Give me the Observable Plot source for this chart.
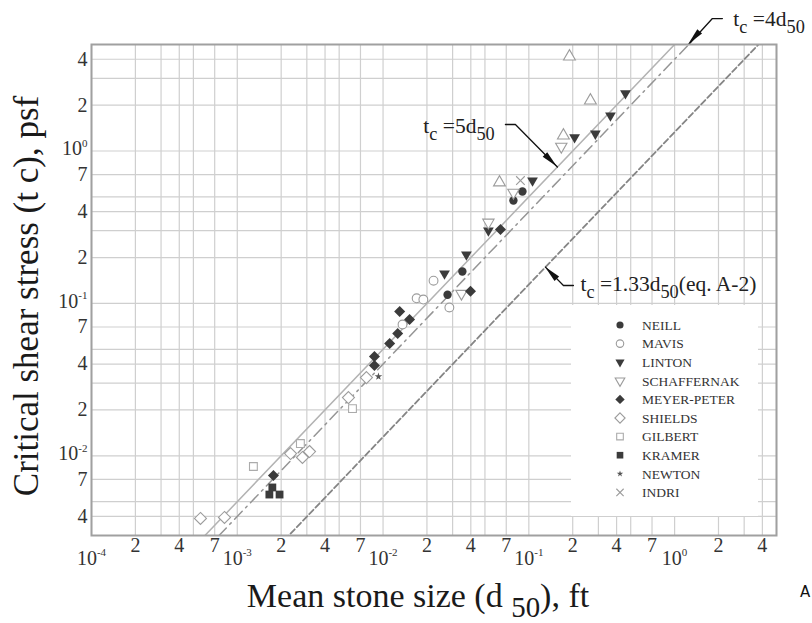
<!DOCTYPE html>
<html><head><meta charset="utf-8">
<script src="https://cdn.jsdelivr.net/npm/d3@7"></script>
<script src="https://cdn.jsdelivr.net/npm/@observablehq/plot@0.6"></script>
<style>
html,body{margin:0;padding:0;background:#fff;}
#chart{position:relative;width:812px;height:623px;overflow:hidden;background:#fff;}
</style></head><body><div id="chart"></div>
<script>
// ---------- data (d50 in ft, tc in psf) ----------
const neillD50 = [0.0277, 0.035, 0.0784, 0.0904];
const neillTc  = [0.114, 0.162, 0.474, 0.542];
const mavisD50 = [0.0136, 0.0170, 0.0189, 0.0222, 0.0285];
const mavisTc  = [0.0727, 0.108, 0.106, 0.141, 0.094];
const lintonD50 = [0.0264, 0.0373, 0.0528, 0.106, 0.206, 0.286, 0.363, 0.46];
const lintonTc  = [0.157, 0.209, 0.301, 0.64, 1.23, 1.30, 1.71, 2.39];
const schaffD50 = [0.0345, 0.0528, 0.0784, 0.167];
const schaffTc  = [0.116, 0.340, 0.534, 1.07];
const meyerD50 = [0.00177, 0.00873, 0.00873, 0.0111, 0.0126, 0.0130, 0.0152, 0.0398, 0.0639];
const meyerTc  = [0.00743, 0.0391, 0.0448, 0.0545, 0.0635, 0.0885, 0.0784, 0.120, 0.306];
const shieldsD50 = [0.000559, 0.000817, 0.00232, 0.0028, 0.00313, 0.00579, 0.00769];
const shieldsTc  = [0.00388, 0.00394, 0.01035, 0.00975, 0.01067, 0.0241, 0.0326];
const gilbertD50 = [0.00129, 0.00271, 0.00617];
const gilbertTc  = [0.00851, 0.01204, 0.0204];
const kramerD50 = [0.00174, 0.00166, 0.00195];
const kramerTc  = [0.0062, 0.00557, 0.00557];
const newtonD50 = [0.0093];
const newtonTc  = [0.0331];
const indriD50 = [0.0876];
const indriTc  = [0.64];
const openUpD50 = [0.0629, 0.1727, 0.2645, 0.19];
const openUpTc  = [0.622, 1.264, 2.145, 4.17];

const legendNames = ["NEILL","MAVIS","LINTON","SCHAFFERNAK","MEYER-PETER","SHIELDS","GILBERT","KRAMER","NEWTON","INDRI"];

// reference lines tc = k * d50
const lineCoefs = [5, 4, 1.33];

// axis ticks
const xDecades = [1e-4, 1e-3, 1e-2, 1e-1, 1];
const xMinorTicks = [2e-4,4e-4,7e-4,2e-3,4e-3,7e-3,2e-2,4e-2,7e-2,0.2,0.4,0.7,2,4];
const yDecades = [1e-2, 1e-1, 1];
const yMinorTicks = [0.004,0.007,0.02,0.04,0.07,0.2,0.4,0.7,2,4];
const gridMultiples = [1,2,3,4,5,7];

// annotations
const annoText = ["t_{c} =4d_{50}", "t_{c} =5d_{50}", "t_{c} =1.33d_{50}(eq. A-2)"];
const annoX = [2.53, 0.0189, 0.226];
const annoY = [7.29, 1.448, 0.133];
const leaderId = ["a","a","a","b","b","b","c","c","c"];
const leaderX = [2.127, 1.816, 1.25, 0.0691, 0.0809, 0.157, 0.2022, 0.1727, 0.13];
const leaderY = [7.40, 7.40, 5.0, 1.493, 1.493, 0.785, 0.1311, 0.1311, 0.173];

// ---------- symbols ----------
const triDown = {draw(ctx, size){
  const s = Math.sqrt(4*size/Math.sqrt(3)), h = s*Math.sqrt(3)/2;
  ctx.moveTo(-s/2, -h/3); ctx.lineTo(s/2, -h/3); ctx.lineTo(0, 2*h/3); ctx.closePath();
}};
const triUp = {draw(ctx, size){
  const s = Math.sqrt(4*size/Math.sqrt(3)), h = s*Math.sqrt(3)/2;
  ctx.moveTo(-s/2, h/3); ctx.lineTo(s/2, h/3); ctx.lineTo(0, -2*h/3); ctx.closePath();
}};
const rhomb = {draw(ctx, size){
  const r = Math.sqrt(size/2);
  ctx.moveTo(0,-r); ctx.lineTo(r,0); ctx.lineTo(0,r); ctx.lineTo(-r,0); ctx.closePath();
}};
const DARK = "#3b3b3b", OPEN = "#9c9c9c";
const series = [
  {name:"NEILL", d50:neillD50, tc:neillTc, symbol:d3.symbolCircle, fill:DARK, stroke:"none", r:4.2},
  {name:"MAVIS", d50:mavisD50, tc:mavisTc, symbol:d3.symbolCircle, fill:"white", stroke:OPEN, r:4.4},
  {name:"LINTON", d50:lintonD50, tc:lintonTc, symbol:triDown, fill:DARK, stroke:"none", r:4.0},
  {name:"SCHAFFERNAK", d50:schaffD50, tc:schaffTc, symbol:triDown, fill:"white", stroke:OPEN, r:4.2},
  {name:"MEYER-PETER", d50:meyerD50, tc:meyerTc, symbol:rhomb, fill:DARK, stroke:"none", r:4.4},
  {name:"SHIELDS", d50:shieldsD50, tc:shieldsTc, symbol:rhomb, fill:"white", stroke:OPEN, r:4.8},
  {name:"GILBERT", d50:gilbertD50, tc:gilbertTc, symbol:d3.symbolSquare, fill:"white", stroke:"#ababab", r:4.4},
  {name:"KRAMER", d50:kramerD50, tc:kramerTc, symbol:d3.symbolSquare, fill:DARK, stroke:"none", r:4.4},
  {name:"NEWTON", d50:newtonD50, tc:newtonTc, symbol:d3.symbolStar, fill:"#555", stroke:"none", r:2.4},
  {name:"INDRI", d50:indriD50, tc:indriTc, symbol:d3.symbolTimes, fill:"none", stroke:OPEN, r:4.0},
  {name:"", d50:openUpD50, tc:openUpTc, symbol:triUp, fill:"white", stroke:OPEN, r:4.4}
];

// ---------- derived tables ----------
const xDomain = [1e-4, 5], yDomain = [3e-3, 5];
const xGrid = xDecades.flatMap(d => gridMultiples.map(m => m*d)).filter(v => v <= xDomain[1]*1.0001);
const yGrid = [1e-3, ...yDecades].flatMap(d => gridMultiples.map(m => m*d)).filter(v => v >= yDomain[0]*0.999 && v <= yDomain[1]*1.0001);
const refLine = k => xDomain.map(x => ({x, y: k*x}));
const lead = leaderId.map((id,i) => ({id, x: leaderX[i], y: leaderY[i]}));
const annos = annoText.map((t,i) => ({t, x: annoX[i], y: annoY[i]}));
const digit = d => String(Math.round(d / Math.pow(10, Math.floor(Math.log10(d) + 1e-9))));
const decade = d => `10^{${Math.round(Math.log10(d))}}`;

const FONT = "'Liberation Serif', 'Times New Roman', serif";
const TICK = {fontSize: 20, fill: "#333"};

const plot = Plot.plot({
  width: 812, height: 623,
  marginLeft: 91, marginRight: 36, marginTop: 44, marginBottom: 88,
  x: {type: "log", domain: xDomain, axis: null},
  y: {type: "log", domain: yDomain, axis: null},
  style: {fontFamily: FONT, background: "white", color: "#333", overflow: "visible"},
  marks: [
    Plot.ruleX(xGrid, {stroke: "#cfcfcf", strokeWidth: 1.2}),
    Plot.ruleY(yGrid, {stroke: "#cfcfcf", strokeWidth: 1.2}),
    Plot.line(refLine(lineCoefs[0]), {x: "x", y: "y", stroke: "#b3b3b3", strokeWidth: 1.5, clip: true}),
    Plot.line(refLine(lineCoefs[1]), {x: "x", y: "y", stroke: "#959595", strokeWidth: 1.5, strokeDasharray: "11,5,2,5", clip: true}),
    Plot.line(refLine(lineCoefs[2]), {x: "x", y: "y", stroke: "#858585", strokeWidth: 1.8, strokeDasharray: "6,3", clip: true}),
    ...series.map(s => Plot.dot(s.d50.map((d,i) => ({d, t: s.tc[i]})), {
      x: "d", y: "t", symbol: s.symbol, r: s.r, fill: s.fill, stroke: s.stroke, strokeWidth: 1.1
    })),
    Plot.line(lead, {x: "x", y: "y", z: "id", stroke: "#111", strokeWidth: 1.3}),
    Plot.text(annos, {x: "x", y: "y", text: "t", textAnchor: "start", fontSize: 21.5, fill: "#222"}),
    Plot.frame({stroke: "#a0a0a0", strokeWidth: 2}),
    // tick labels
    Plot.text(xMinorTicks, {x: d => d, text: digit, frameAnchor: "bottom", lineAnchor: "top", dy: 2, ...TICK}),
    Plot.text(xDecades, {x: d => d, text: decade, frameAnchor: "bottom", lineAnchor: "top", dy: 15, ...TICK}),
    Plot.text(yMinorTicks, {y: d => d, text: digit, frameAnchor: "left", textAnchor: "end", dx: -4, ...TICK}),
    Plot.text(yDecades, {y: d => d, text: decade, frameAnchor: "left", textAnchor: "end", dx: -4, dy: -2, ...TICK})
  ]
});

const host = document.getElementById("chart");
host.appendChild(plot);
const svg = d3.select(plot.tagName.toLowerCase() === "svg" ? plot : plot.querySelector("svg"));

// arrowheads at leader tips (using the plot's own scales)
const sx = plot.scale("x"), sy = plot.scale("y");
const ids = [...new Set(leaderId)];
ids.forEach(id => {
  const pts = lead.filter(p => p.id === id);
  const a = pts[pts.length-2], b = pts[pts.length-1];
  const x1 = sx.apply(a.x), y1 = sy.apply(a.y), x2 = sx.apply(b.x), y2 = sy.apply(b.y);
  const L = Math.hypot(x2-x1, y2-y1), ux = (x2-x1)/L, uy = (y2-y1)/L;
  const len = 17, hw = 3.2;
  const bx = x2 - ux*len, by = y2 - uy*len;
  svg.append("path")
    .attr("d", `M${x2},${y2}L${bx - uy*hw},${by + ux*hw}L${bx + uy*hw},${by - ux*hw}Z`)
    .attr("fill", "#111");
});

// legend
const lg = svg.append("g").attr("text-anchor", "start");
lg.append("rect").attr("x", 571).attr("y", 305).attr("width", 187).attr("height", 211).attr("fill", "white");
legendNames.forEach((n, i) => {
  const s = series.find(q => q.name === n);
  const y = 325 + i*18.6;
  lg.append("path")
    .attr("transform", `translate(620,${y})`)
    .attr("d", d3.symbol().type(s.symbol).size(Math.PI*Math.pow(s.r*0.85, 2))())
    .attr("fill", s.fill).attr("stroke", s.stroke).attr("stroke-width", 1.1);
  lg.append("text").attr("x", 642).attr("y", y).attr("dy", "0.35em").attr("text-anchor", "start")
    .attr("font-family", FONT).attr("font-size", 13.5).attr("fill", "#333").text(n);
});

// axis titles
svg.append("text").attr("x", 418).attr("y", 607).attr("text-anchor", "middle")
  .attr("font-family", FONT).attr("font-size", 34).attr("fill", "#1a1a1a")
  .text("Mean stone size (d _{50}), ft");
svg.append("text").attr("transform", "translate(38,296) rotate(-90)").attr("text-anchor", "middle")
  .attr("font-family", FONT).attr("font-size", 35).attr("fill", "#1a1a1a")
  .text("Critical shear stress (t c), psf");
svg.append("text").attr("x", 800).attr("y", 597).attr("text-anchor", "start")
  .attr("font-family", "'DejaVu Sans', sans-serif").attr("font-size", 15).attr("fill", "#111").text("A");

// rich text: ^{sup} and _{sub}
function richify(root) {
  root.querySelectorAll("text").forEach(t => {
    const s = t.textContent;
    if (!/[\^_]\{/.test(s)) return;
    const fs = parseFloat(getComputedStyle(t).fontSize) || 16;
    while (t.firstChild) t.removeChild(t.firstChild);
    const re = /([\^_])\{([^}]*)\}|([^\^_]+)/g;
    let m, cur = 0;
    while ((m = re.exec(s))) {
      const ts = document.createElementNS("http://www.w3.org/2000/svg", "tspan");
      let target = 0, size = null;
      if (m[1] === "^") { target = -0.42*fs; size = 0.55*fs; ts.textContent = m[2]; }
      else if (m[1] === "_") { target = 0.3*fs; size = 0.85*fs; ts.textContent = m[2]; }
      else { ts.textContent = m[3]; }
      if (target !== cur) ts.setAttribute("dy", (target - cur).toFixed(2));
      cur = target;
      if (size) ts.setAttribute("font-size", size.toFixed(1));
      t.appendChild(ts);
    }
  });
}
richify(svg.node());
</script></body></html>
